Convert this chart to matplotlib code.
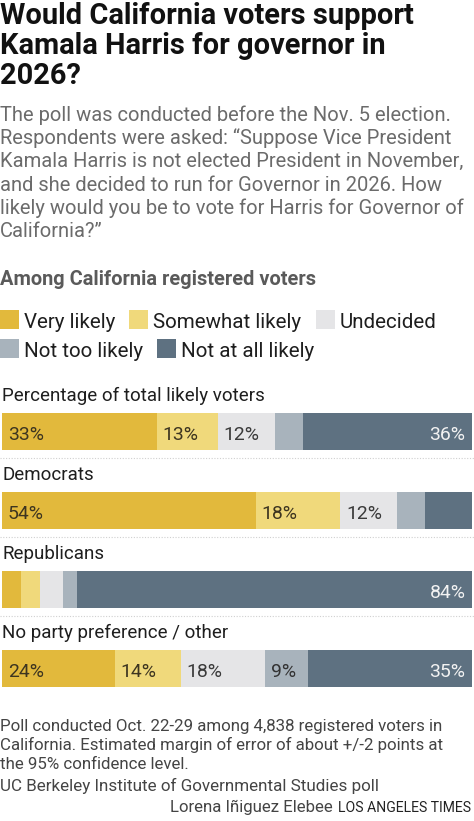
import matplotlib
matplotlib.use('Agg')
import matplotlib.pyplot as plt
from matplotlib.patches import Rectangle

# ---------------- data ----------------
groups = ["Percentage of total likely voters", "Democrats", "Republicans",
          "No party preference / other"]
categories = ["Very likely", "Somewhat likely", "Undecided",
              "Not too likely", "Not at all likely"]
very_likely = [33, 54, 4, 24]
somewhat_likely = [13, 18, 4, 14]
undecided = [12, 12, 5, 18]
not_too_likely = [6, 6, 3, 9]
not_at_all_likely = [36, 10, 84, 35]
# which segment values are printed on the bars
show_label = [
    [True, True, True, False, True],
    [True, True, True, False, False],
    [False, False, False, False, True],
    [True, True, True, True, True],
]

title_lines = ["Would California voters support",
               "Kamala Harris for governor in",
               "2026?"]
subtitle_lines = ["The poll was conducted before the Nov. 5 election.",
                  "Respondents were asked: \u201cSuppose Vice President",
                  "Kamala Harris is not elected President in November,",
                  "and she decided to run for Governor in 2026. How",
                  "likely would you be to vote for Harris for Governor of",
                  "California?\u201d"]
legend_title = "Among California registered voters"
footer_lines = ["Poll conducted Oct. 22-29 among 4,838 registered voters in",
                "California. Estimated margin of error of about +/-2 points at",
                "the 95% confidence level."]
source = "UC Berkeley Institute of Governmental Studies poll"
credit = "Lorena Iñiguez Elebee"
outlet = "LOS ANGELES TIMES"

# ---------------- style ----------------
colors = ['#e2b93c', '#f0d97b', '#e5e5e7', '#a8b3bc', '#5e7181']
label_colors = ['#3d3520', '#3d3520', '#3a3a3a', '#333333', '#f2f2f2']
FONT = 'Roboto'
W, H = 474, 821
plt.rcParams['font.family'] = [FONT, 'DejaVu Sans']

fig = plt.figure(figsize=(W / 100, H / 100), dpi=100)
fig.patch.set_facecolor('white')
renderer = fig.canvas.get_renderer()


def fy(px):
    return 1 - px / H


def fx(px):
    return px / W


def fit_size(s, target_px, weight='normal', base=12.0):
    """font size at which string s is target_px wide"""
    t = fig.text(0, 0, s, fontsize=base, fontweight=weight)
    w = t.get_window_extent(renderer=renderer).width
    t.remove()
    return base * target_px / w


title_fs = fit_size(title_lines[0], 412, 'bold', 20)
sub_fs = fit_size(subtitle_lines[0], 452, 'normal', 12.8)
legt_fs = fit_size(legend_title, 316, 'bold', 14)
leg_fs = fit_size(categories[0], 92, 'normal', 14)
grp_fs = fit_size(groups[0], 263, 'normal', 13.5)
pct_fs = fit_size("33%", 36, 'normal', 14)
foot_fs = fit_size(footer_lines[0], 447, 'normal', 11.5)
src_fs = fit_size(source, 381, 'normal', 11.5)
credit_fs = fit_size(credit, 163, 'normal', 12)
outlet_fs = fit_size(outlet, 133, 'normal', 10)

# title
for i, line in enumerate(title_lines):
    fig.text(fx(0), fy(23.5 + 30 * i), line, fontsize=title_fs,
             fontweight='bold', color='#111111', va='baseline', ha='left')

# subtitle
for i, line in enumerate(subtitle_lines):
    fig.text(fx(0), fy(121 + 23.2 * i), line, fontsize=sub_fs,
             color='#6b6b6b', va='baseline', ha='left')

fig.text(fx(0), fy(285), legend_title, fontsize=legt_fs, fontweight='bold',
         color='#5a5a5a', va='baseline', ha='left')

# legend (laid out from measured text widths)
x = 0
row = 0
for k, cat in enumerate(categories):
    if k == 3:
        x = 0
        row = 1
    top = 310 + 29 * row
    fig.add_artist(Rectangle((fx(x), fy(top + 19)), 19 / W, 19 / H,
                             transform=fig.transFigure, facecolor=colors[k],
                             edgecolor='none'))
    t = fig.text(fx(x + 24), fy(top + 18), cat, fontsize=leg_fs,
                 color='#1e1e1e', va='baseline', ha='left')
    bb = t.get_window_extent(renderer=renderer)
    x = bb.x1 + 14

# bars
series = [very_likely, somewhat_likely, undecided, not_too_likely,
          not_at_all_likely]
ax = fig.add_axes([fx(2), fy(708), 470 / W, 316 / H])
ax.set_xlim(0, 100)
ax.set_ylim(3.5, -0.5)
ax.axis('off')
ypos = list(range(len(groups)))
lefts = [0] * len(groups)
for k, vals in enumerate(series):
    ax.barh(ypos, vals, left=lefts, height=0.468, color=colors[k],
            linewidth=0)
    for i, v in enumerate(vals):
        if show_label[i][k]:
            if k == len(series) - 1:
                ax.text(lefts[i] + v - 1.4, i + 0.11, f"{v}%", ha='right',
                        va='baseline', fontsize=pct_fs, color=label_colors[k])
            else:
                ax.text(lefts[i] + 1.2, i + 0.11, f"{v}%", ha='left',
                        va='baseline', fontsize=pct_fs, color=label_colors[k])
    lefts = [a + b for a, b in zip(lefts, vals)]

for i, g in enumerate(groups):
    ax.text(0, i - 0.388, g, ha='left', va='baseline', fontsize=grp_fs,
            color='#1e1e1e')
for i in range(len(groups) - 1):
    ax.plot([-0.4, 100.4], [i + 0.335, i + 0.335], color='#d0d0d0',
            linestyle=(0, (1, 1.5)), linewidth=0.8, clip_on=False)

# footer
for i, line in enumerate(footer_lines):
    fig.text(fx(0), fy(731 + 19 * i), line, fontsize=foot_fs, color='#444444',
             va='baseline', ha='left')
fig.text(fx(0), fy(791), source, fontsize=src_fs, color='#444444',
         va='baseline', ha='left')
t = fig.text(fx(471), fy(812), outlet, fontsize=outlet_fs, color='#222222',
             va='baseline', ha='right')
bb = t.get_window_extent(renderer=renderer)
fig.text((bb.x0 - 5) / W, fy(812), credit, fontsize=credit_fs,
         color='#444444', va='baseline', ha='right')

fig.savefig('out.png', dpi=100, facecolor='white')
